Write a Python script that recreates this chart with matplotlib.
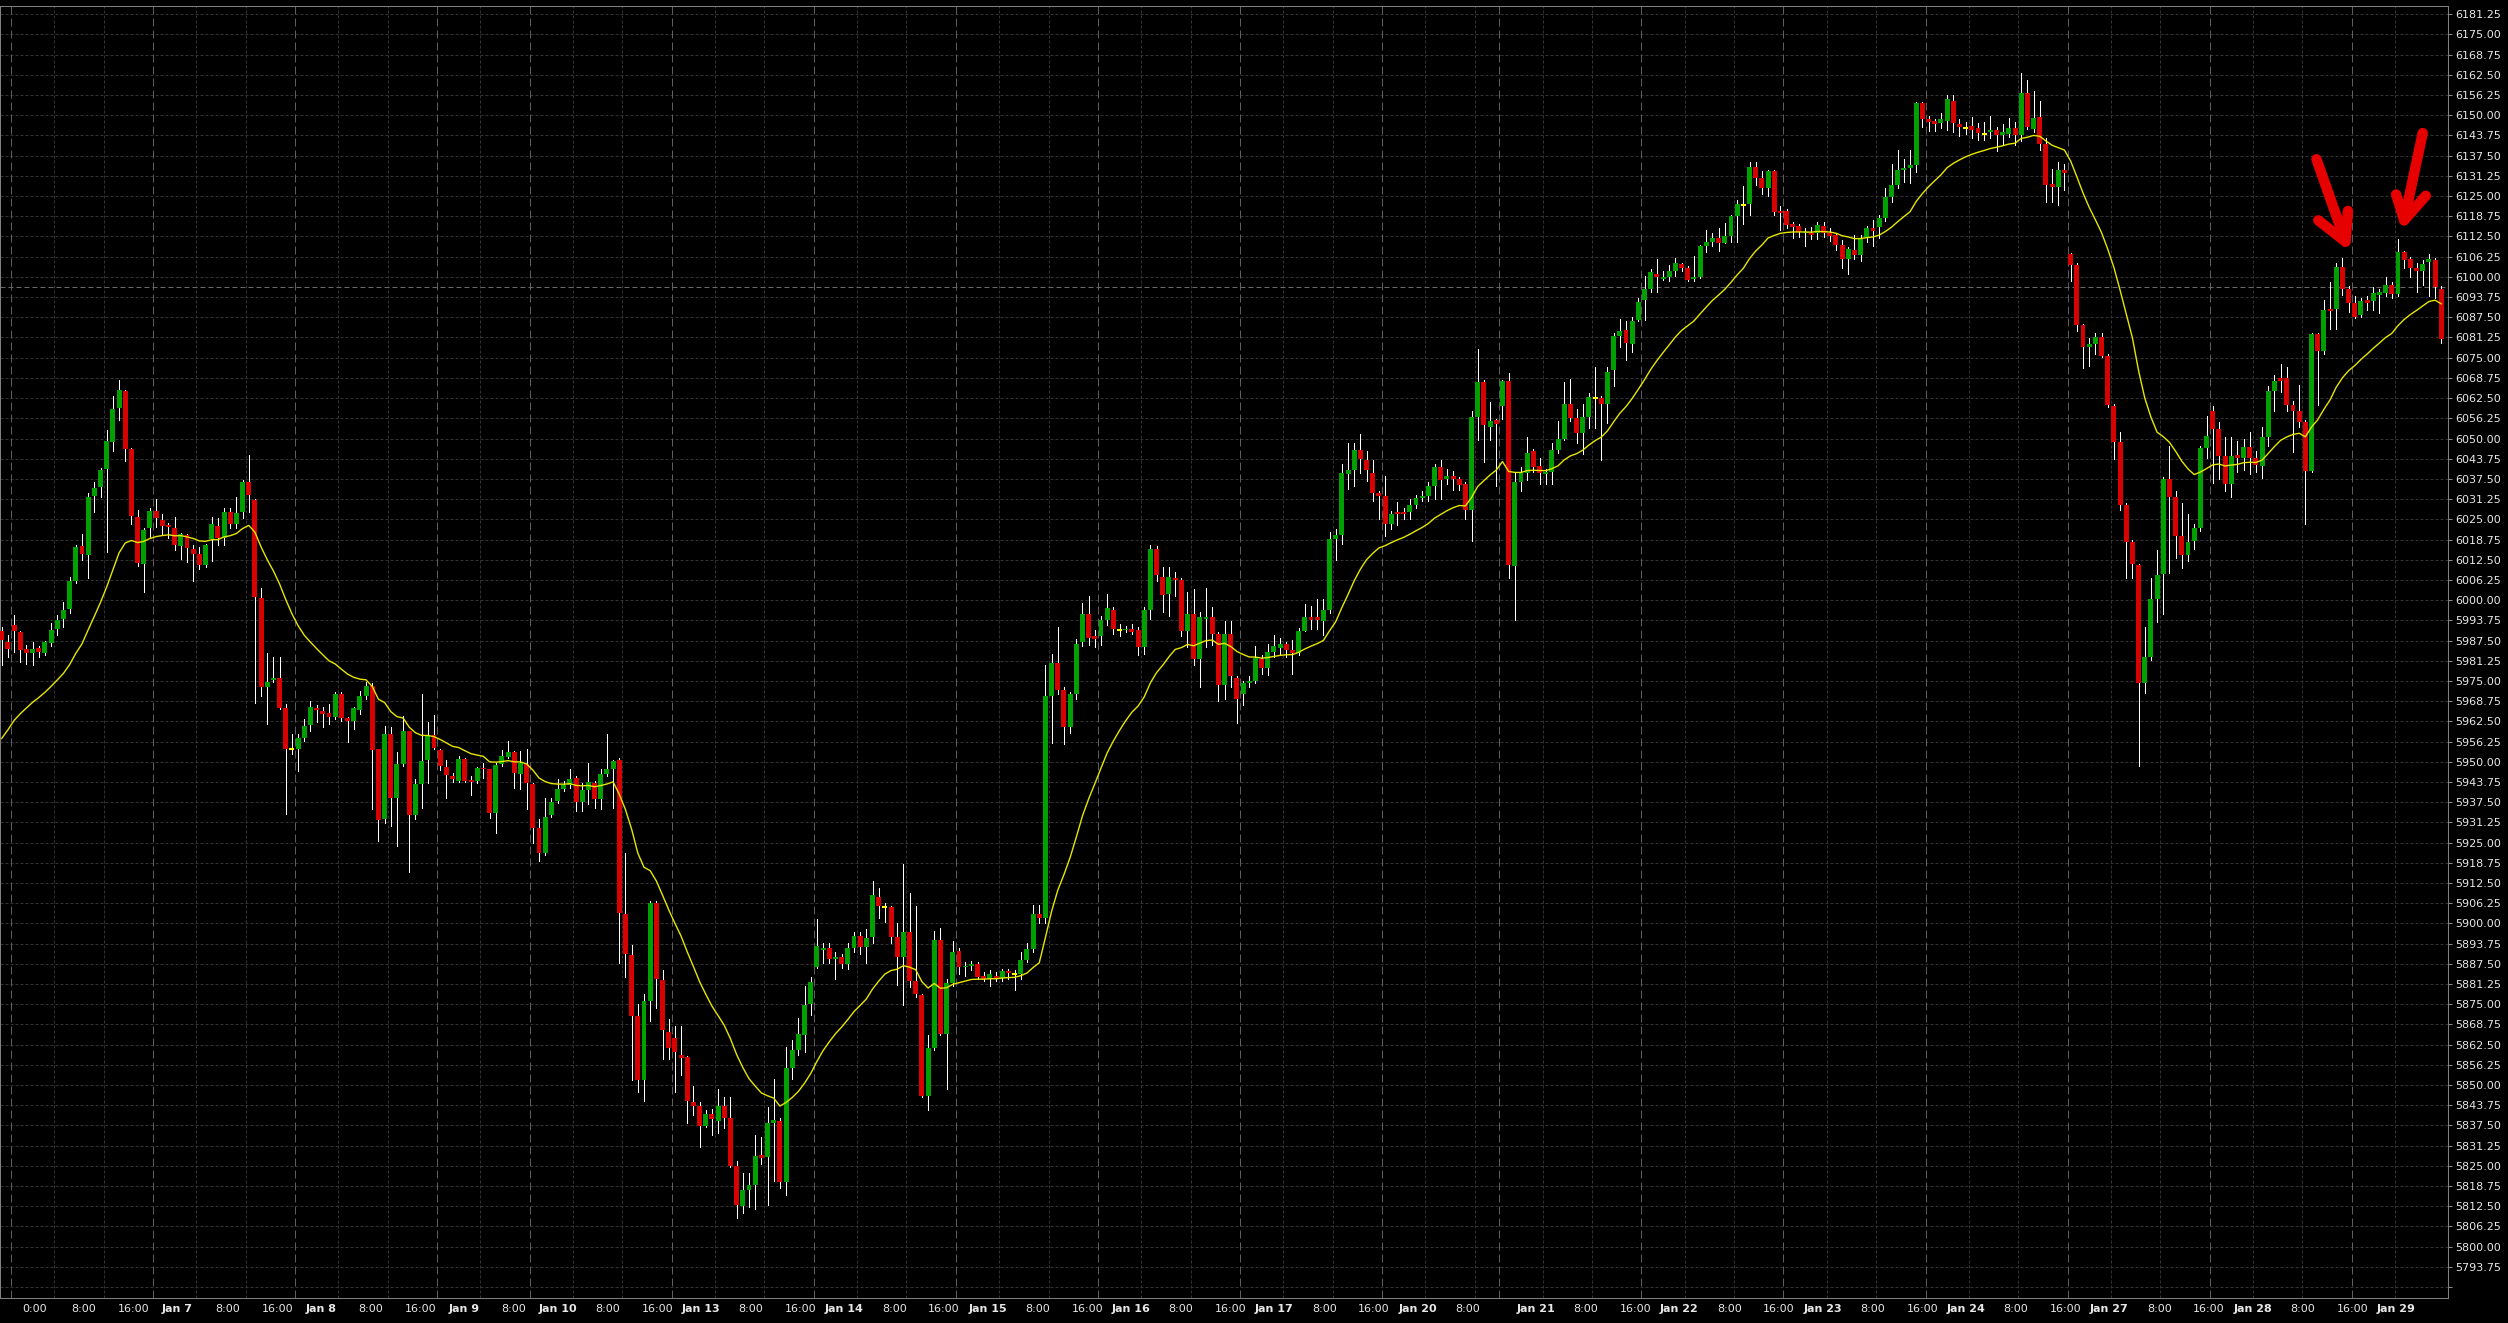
import numpy as np
import pandas as pd
import matplotlib
matplotlib.use("Agg")
import matplotlib.pyplot as plt
import matplotlib.transforms as mtransforms

# ---- hourly candles (bar 0 = left edge) ----
opens = [
    5990.3, 5987.2, 5992.2, 5990.1, 5984.9, 5983.7, 5985.1, 5983.7, 5986.7, 5991.1,
    5994.2, 5997.3, 6005.9, 6016.8, 6014.1, 6032.1, 6034.9, 6040.5, 6048.9, 6059.4,
    6064.8, 6046.8, 6025.8, 6011.3, 6022.2, 6027.5, 6024.8, 6023.2, 6022.4, 6016.8,
    6020.1, 6015.8, 6014.3, 6011.0, 6018.9, 6023.0, 6019.1, 6027.2, 6023.7, 6027.2,
    6036.7, 6031.1, 6000.7, 5973.0, 5975.4, 5976.0, 5966.5, 5953.9, 5954.1, 5957.2,
    5961.3, 5966.7, 5965.8, 5965.0, 5963.7, 5971.0, 5963.4, 5962.7, 5966.1, 5970.4,
    5973.5, 5953.9, 5932.2, 5958.5, 5938.9, 5949.2, 5959.4, 5933.4, 5943.0, 5950.5,
    5958.3, 5953.7, 5948.4, 5945.6, 5944.1, 5951.0, 5944.3, 5944.1, 5948.2, 5947.7,
    5934.0, 5949.2, 5951.6, 5953.1, 5946.1, 5949.2, 5943.0, 5929.6, 5921.8, 5933.4,
    5937.8, 5941.7, 5942.7, 5945.1, 5937.5, 5941.3, 5943.5, 5938.6, 5946.1, 5947.9,
    5950.6, 5902.8, 5890.1, 5871.4, 5851.6, 5875.9, 5906.2, 5882.4, 5866.3, 5864.5,
    5859.4, 5858.7, 5844.7, 5843.6, 5837.4, 5841.1, 5839.0, 5843.6, 5839.7, 5825.0,
    5812.6, 5817.4, 5819.2, 5828.4, 5827.7, 5838.3, 5839.0, 5819.9, 5855.3, 5860.8,
    5865.6, 5875.2, 5886.5, 5891.8, 5892.4, 5889.0, 5889.7, 5887.4, 5892.4, 5896.2,
    5892.7, 5895.9, 5908.3, 5905.1, 5905.1, 5895.9, 5889.7, 5897.3, 5882.1, 5877.7,
    5846.7, 5861.5, 5894.8, 5865.9, 5881.7, 5891.5, 5886.5, 5886.8, 5887.4, 5883.8,
    5882.8, 5883.8, 5883.2, 5885.2, 5884.2, 5884.2, 5888.6, 5892.2, 5902.8, 5901.7,
    5970.2, 5980.6, 5972.3, 5960.9, 5970.9, 5987.0, 5995.7, 5988.8, 5988.8, 5993.9,
    5997.1, 5990.9, 5990.9, 5991.2, 5990.9, 5985.4, 5997.1, 6015.7, 6007.1, 6001.9,
    6007.0, 6006.3, 5990.6, 5995.7, 5981.9, 5994.3, 5994.7, 5989.5, 5973.7, 5989.5,
    5976.0, 5970.9, 5974.4, 5974.9, 5981.7, 5979.0, 5983.9, 5985.3, 5986.3, 5984.7,
    5983.7, 5990.6, 5994.7, 5994.7, 5993.7, 5996.8, 6018.8, 6020.2, 6038.9, 6040.3,
    6046.4, 6043.3, 6039.3, 6033.0, 6032.2, 6023.6, 6027.2, 6027.3, 6027.2, 6029.5,
    6031.7, 6032.2, 6035.3, 6041.3, 6037.6, 6038.4, 6037.6, 6035.9, 6027.9, 6056.8,
    6067.5, 6053.7, 6055.8, 6060.1, 6067.9, 6010.5, 6036.6, 6039.3, 6046.0, 6041.6,
    6038.9, 6039.7, 6046.4, 6050.0, 6060.8, 6056.4, 6051.8, 6056.8, 6062.4, 6062.4,
    6060.8, 6071.1, 6081.6, 6083.6, 6079.2, 6086.6, 6092.9, 6096.3, 6101.0, 6099.5,
    6100.1, 6101.9, 6104.1, 6102.7, 6099.3, 6100.1, 6109.5, 6110.8, 6112.1, 6110.4,
    6112.7, 6118.8, 6122.1, 6122.5, 6133.9, 6130.5, 6127.4, 6132.8, 6120.5, 6120.5,
    6116.4, 6115.7, 6113.5, 6113.7, 6113.5, 6115.7, 6113.5, 6113.1, 6110.0, 6105.4,
    6108.4, 6106.8, 6112.1, 6115.1, 6115.3, 6118.2, 6124.7, 6128.3, 6133.0, 6133.7,
    6134.6, 6153.8, 6148.7, 6148.2, 6147.7, 6148.3, 6154.5, 6147.2, 6146.1, 6146.8,
    6146.1, 6144.3, 6144.8, 6145.4, 6143.9, 6144.3, 6146.2, 6143.9, 6157.0, 6145.8,
    6149.4, 6141.0, 6128.8, 6127.9, 6133.0, 6107.0, 6103.6, 6085.0, 6078.2, 6079.2,
    6081.4, 6075.6, 6060.0, 6048.8, 6029.5, 6017.9, 6011.0, 5974.3, 5982.3, 6000.4,
    6008.1, 6037.5, 6032.0, 6019.8, 6014.0, 6018.3, 6022.2, 6047.0, 6058.6, 6052.8,
    6044.5, 6035.8, 6044.8, 6044.0, 6047.4, 6044.0, 6041.6, 6050.6, 6064.8, 6068.6,
    6068.7, 6060.5, 6058.6, 6055.0, 6040.1, 6082.3, 6077.0, 6090.1, 6090.1, 6103.2,
    6096.4, 6092.0, 6088.1, 6092.7, 6092.4, 6094.5, 6094.9, 6097.4, 6094.6, 6107.6,
    6105.5, 6102.6, 6101.9, 6104.6, 6105.1, 6096.4,
]
highs = [
    5991.6, 5989.1, 5995.3, 5990.3, 5986.2, 5987.2, 5985.9, 5987.5, 5992.9, 5995.3,
    5999.4, 6007.2, 6017.2, 6020.4, 6033.1, 6036.5, 6040.8, 6052.7, 6063.1, 6068.0,
    6065.1, 6047.0, 6027.9, 6022.2, 6028.4, 6031.3, 6026.8, 6024.0, 6025.6, 6020.8,
    6020.4, 6017.0, 6016.5, 6017.5, 6025.8, 6025.3, 6028.4, 6028.6, 6032.0, 6037.2,
    6045.0, 6031.2, 6003.6, 5983.6, 5982.3, 5982.3, 5967.9, 5958.5, 5958.5, 5963.2,
    5968.9, 5967.5, 5966.8, 5967.9, 5971.5, 5971.5, 5963.7, 5966.8, 5972.0, 5974.6,
    5974.4, 5954.1, 5961.1, 5960.9, 5952.9, 5964.2, 5959.6, 5944.6, 5971.0, 5962.4,
    5964.4, 5953.9, 5950.6, 5946.4, 5951.8, 5951.3, 5945.6, 5948.5, 5949.7, 5947.9,
    5949.7, 5953.7, 5956.5, 5953.4, 5953.4, 5953.9, 5943.5, 5932.2, 5938.9, 5938.9,
    5944.6, 5944.1, 5947.7, 5945.6, 5943.3, 5949.7, 5944.1, 5947.9, 5958.5, 5950.6,
    5951.2, 5921.8, 5893.4, 5875.2, 5878.0, 5906.9, 5906.9, 5885.6, 5870.4, 5868.4,
    5868.1, 5859.0, 5849.8, 5844.7, 5842.2, 5842.5, 5848.8, 5846.3, 5846.3, 5826.4,
    5822.9, 5822.9, 5834.6, 5833.9, 5843.3, 5851.8, 5839.7, 5861.8, 5864.0, 5870.8,
    5880.7, 5883.5, 5901.4, 5893.8, 5893.8, 5891.1, 5890.4, 5893.8, 5897.3, 5897.3,
    5898.2, 5913.1, 5911.0, 5906.2, 5905.5, 5900.0, 5918.3, 5909.4, 5905.5, 5878.0,
    5865.6, 5897.5, 5898.6, 5882.8, 5894.5, 5892.5, 5887.9, 5888.3, 5887.9, 5884.9,
    5885.6, 5884.9, 5886.0, 5886.0, 5885.6, 5891.1, 5893.8, 5905.8, 5905.8, 5979.9,
    5983.3, 5991.6, 5973.0, 5971.6, 5988.1, 5999.1, 6001.2, 5990.9, 5995.0, 6001.9,
    5998.0, 5992.5, 5992.0, 5992.5, 5991.6, 5998.0, 6017.0, 6016.8, 6010.2, 6010.2,
    6008.8, 6006.7, 6002.6, 6003.3, 5996.4, 6003.9, 5997.8, 5990.2, 5993.6, 5993.6,
    5976.4, 5975.0, 5976.4, 5985.7, 5983.0, 5986.3, 5989.3, 5988.4, 5987.0, 5987.7,
    5991.4, 5998.7, 5998.1, 6000.4, 6000.4, 6021.2, 6021.9, 6042.0, 6048.7, 6048.7,
    6051.4, 6046.0, 6043.3, 6033.9, 6038.4, 6027.7, 6030.3, 6028.6, 6031.3, 6032.6,
    6033.9, 6036.6, 6042.0, 6043.3, 6040.7, 6040.0, 6038.0, 6036.6, 6058.5, 6077.8,
    6068.2, 6061.4, 6056.1, 6068.2, 6070.2, 6039.3, 6041.3, 6050.4, 6046.7, 6044.0,
    6040.7, 6048.7, 6055.4, 6067.5, 6068.4, 6059.0, 6060.8, 6064.1, 6072.2, 6063.1,
    6072.2, 6082.6, 6086.9, 6086.2, 6087.6, 6093.4, 6100.3, 6102.3, 6105.4, 6101.9,
    6103.7, 6105.7, 6104.4, 6103.3, 6106.4, 6110.0, 6114.4, 6113.5, 6115.1, 6116.7,
    6119.1, 6123.8, 6128.2, 6135.5, 6135.5, 6132.8, 6133.2, 6133.2, 6121.8, 6121.1,
    6117.1, 6116.4, 6115.1, 6115.3, 6117.1, 6117.1, 6115.1, 6113.7, 6111.3, 6109.1,
    6113.1, 6113.1, 6115.8, 6117.5, 6119.2, 6127.6, 6134.9, 6139.2, 6136.6, 6139.2,
    6154.1, 6154.1, 6149.7, 6148.7, 6150.6, 6156.4, 6156.4, 6148.7, 6148.0, 6149.4,
    6147.7, 6148.0, 6149.7, 6146.5, 6147.2, 6149.1, 6148.0, 6163.2, 6161.0, 6157.4,
    6154.5, 6142.9, 6133.4, 6135.6, 6134.9, 6107.3, 6104.4, 6085.5, 6081.1, 6082.6,
    6082.6, 6076.0, 6060.7, 6052.0, 6030.2, 6018.6, 6011.3, 5991.7, 6007.0, 6015.4,
    6038.2, 6047.7, 6033.9, 6030.2, 6026.6, 6023.7, 6047.7, 6057.1, 6060.0, 6055.0,
    6050.6, 6050.6, 6049.1, 6049.9, 6052.0, 6046.2, 6053.5, 6066.3, 6069.8, 6073.1,
    6072.1, 6061.5, 6066.6, 6055.7, 6082.6, 6082.6, 6092.7, 6098.5, 6104.4, 6105.8,
    6097.1, 6094.2, 6093.5, 6094.2, 6096.8, 6096.4, 6100.0, 6098.5, 6111.6, 6108.0,
    6106.1, 6104.4, 6105.1, 6107.0, 6105.8, 6097.1,
]
lows = [
    5979.8, 5982.3, 5983.9, 5981.0, 5980.3, 5979.8, 5982.3, 5983.1, 5985.9, 5989.3,
    5991.7, 5996.1, 6005.4, 6012.4, 6006.7, 6027.2, 6032.0, 6014.9, 6046.2, 6055.8,
    6042.9, 6023.7, 6010.6, 6002.5, 6019.3, 6022.7, 6020.6, 6019.1, 6015.5, 6012.7,
    6011.8, 6005.8, 6009.6, 6010.3, 6012.0, 6017.0, 6017.2, 6022.4, 6022.4, 6025.5,
    6027.2, 5968.2, 5970.4, 5961.6, 5974.6, 5966.3, 5933.7, 5952.3, 5947.2, 5956.5,
    5959.6, 5962.2, 5960.9, 5961.6, 5963.2, 5962.7, 5956.0, 5960.1, 5964.8, 5969.4,
    5935.3, 5925.4, 5931.1, 5930.1, 5923.9, 5948.7, 5915.8, 5932.2, 5935.6, 5943.5,
    5953.9, 5947.5, 5938.9, 5943.7, 5943.7, 5943.7, 5939.6, 5943.5, 5945.1, 5932.7,
    5928.0, 5948.7, 5951.3, 5942.0, 5941.5, 5935.3, 5924.9, 5919.2, 5921.3, 5933.0,
    5937.1, 5941.0, 5942.0, 5934.7, 5934.7, 5936.8, 5935.8, 5935.5, 5945.6, 5935.8,
    5887.6, 5883.5, 5851.4, 5847.7, 5845.0, 5869.7, 5873.9, 5858.0, 5858.0, 5847.7,
    5853.2, 5838.4, 5840.8, 5830.9, 5837.0, 5834.6, 5835.3, 5836.7, 5824.6, 5808.9,
    5810.5, 5812.2, 5811.5, 5825.7, 5813.0, 5820.2, 5818.1, 5816.0, 5851.8, 5859.4,
    5860.1, 5871.8, 5886.3, 5887.6, 5887.6, 5882.8, 5886.3, 5886.0, 5891.1, 5890.4,
    5887.6, 5893.8, 5901.7, 5900.3, 5893.8, 5881.0, 5874.6, 5880.3, 5877.3, 5846.3,
    5842.2, 5860.8, 5865.6, 5848.8, 5880.7, 5884.2, 5883.8, 5885.6, 5882.8, 5882.1,
    5880.7, 5882.1, 5882.1, 5882.8, 5879.4, 5882.8, 5887.9, 5891.1, 5900.0, 5900.0,
    5955.8, 5970.9, 5955.4, 5958.9, 5969.5, 5985.7, 5986.1, 5985.4, 5986.1, 5992.3,
    5989.5, 5988.8, 5990.2, 5989.5, 5982.9, 5983.3, 5994.3, 6006.0, 5996.4, 5995.0,
    6001.2, 5988.8, 5985.4, 5979.9, 5973.0, 5985.4, 5986.1, 5968.8, 5969.5, 5973.0,
    5961.9, 5967.5, 5973.0, 5974.3, 5977.0, 5976.7, 5982.3, 5983.0, 5982.3, 5977.0,
    5983.0, 5990.4, 5991.0, 5991.0, 5989.3, 5996.0, 6012.5, 6017.5, 6034.4, 6035.3,
    6039.3, 6037.0, 6030.6, 6025.2, 6019.9, 6021.9, 6023.2, 6025.2, 6025.2, 6028.6,
    6030.6, 6030.6, 6031.3, 6031.3, 6036.0, 6034.0, 6034.0, 6025.2, 6018.3, 6049.6,
    6042.7, 6049.4, 6035.3, 6056.1, 6006.7, 5994.0, 6033.9, 6037.3, 6039.7, 6036.0,
    6036.0, 6036.0, 6045.6, 6049.4, 6055.4, 6048.7, 6045.1, 6053.4, 6053.4, 6043.3,
    6054.8, 6066.1, 6078.2, 6074.2, 6076.9, 6086.2, 6086.6, 6095.2, 6095.2, 6099.0,
    6098.7, 6100.3, 6101.9, 6098.7, 6098.7, 6099.7, 6107.7, 6109.5, 6108.1, 6110.4,
    6110.8, 6110.8, 6116.4, 6119.1, 6128.5, 6125.5, 6125.1, 6119.1, 6114.4, 6115.1,
    6112.1, 6112.4, 6109.5, 6111.7, 6111.7, 6112.4, 6111.1, 6108.4, 6102.7, 6101.0,
    6105.4, 6105.0, 6110.8, 6109.7, 6111.9, 6117.4, 6123.3, 6127.5, 6129.4, 6129.1,
    6132.3, 6146.5, 6145.1, 6145.1, 6146.2, 6145.4, 6144.8, 6143.6, 6144.3, 6142.9,
    6142.4, 6142.2, 6142.9, 6139.0, 6140.7, 6143.3, 6140.7, 6141.9, 6145.8, 6144.8,
    6139.2, 6123.3, 6123.3, 6122.1, 6126.9, 6098.8, 6083.3, 6071.7, 6072.4, 6076.0,
    6075.3, 6059.6, 6043.6, 6028.0, 6007.0, 6007.0, 5948.8, 5971.4, 5981.6, 5993.2,
    5995.6, 6008.4, 6013.1, 6009.9, 6012.1, 6015.7, 6021.5, 6044.0, 6036.1, 6037.5,
    6033.9, 6032.0, 6039.7, 6040.4, 6039.0, 6039.7, 6037.8, 6047.7, 6058.6, 6064.4,
    6058.6, 6045.9, 6053.5, 6023.7, 6039.7, 6060.5, 6076.0, 6084.0, 6084.0, 6094.5,
    6089.1, 6087.2, 6087.6, 6089.8, 6089.8, 6088.7, 6094.2, 6093.5, 6094.2, 6102.9,
    6100.0, 6095.3, 6097.4, 6094.2, 6093.5, 6079.4,
]
closes = [
    5987.7, 5985.0, 5990.3, 5984.7, 5983.7, 5984.9, 5983.9, 5987.0, 5990.8, 5994.0,
    5996.9, 6005.8, 6016.5, 6014.4, 6032.0, 6034.8, 6040.4, 6049.1, 6059.1, 6065.1,
    6046.7, 6026.0, 6011.5, 6021.7, 6027.6, 6025.3, 6022.9, 6022.5, 6017.0, 6020.4,
    6016.0, 6014.4, 6011.0, 6017.0, 6023.4, 6019.1, 6027.4, 6023.5, 6027.1, 6036.7,
    6032.5, 6000.9, 5973.2, 5974.8, 5976.0, 5966.7, 5954.1, 5953.9, 5957.2, 5961.1,
    5966.8, 5966.0, 5964.8, 5963.7, 5971.0, 5963.5, 5962.6, 5966.5, 5970.3, 5973.3,
    5953.7, 5932.0, 5958.5, 5938.9, 5949.2, 5959.4, 5933.4, 5943.0, 5950.3, 5958.0,
    5954.2, 5948.7, 5945.8, 5944.6, 5950.8, 5944.1, 5943.7, 5948.2, 5947.7, 5934.0,
    5948.9, 5951.8, 5953.1, 5946.4, 5949.7, 5943.3, 5929.6, 5921.8, 5933.0, 5937.5,
    5941.7, 5942.7, 5944.8, 5937.5, 5941.3, 5943.7, 5938.6, 5946.1, 5947.7, 5950.1,
    5903.1, 5890.4, 5871.4, 5851.6, 5875.9, 5906.2, 5882.8, 5867.0, 5861.5, 5860.1,
    5858.5, 5844.9, 5843.6, 5837.4, 5841.1, 5839.5, 5843.6, 5839.7, 5825.0, 5812.9,
    5817.4, 5819.2, 5828.0, 5827.3, 5838.3, 5839.2, 5819.9, 5855.3, 5860.8, 5865.9,
    5874.9, 5881.9, 5892.9, 5892.4, 5889.0, 5889.7, 5887.4, 5892.4, 5896.2, 5892.7,
    5895.5, 5908.7, 5905.5, 5905.1, 5895.9, 5889.7, 5897.3, 5882.1, 5878.0, 5846.7,
    5861.5, 5894.8, 5865.9, 5881.7, 5891.1, 5886.5, 5886.9, 5887.4, 5883.5, 5882.8,
    5884.2, 5882.8, 5885.2, 5884.5, 5884.2, 5888.6, 5892.2, 5902.8, 5901.7, 5970.2,
    5980.6, 5972.3, 5960.9, 5970.9, 5986.5, 5995.7, 5988.4, 5987.9, 5993.9, 5997.5,
    5991.2, 5990.9, 5991.2, 5990.2, 5985.4, 5997.1, 6015.7, 6007.7, 6001.6, 6007.1,
    6006.3, 5990.6, 5995.7, 5981.9, 5994.7, 5994.7, 5989.5, 5973.7, 5989.5, 5976.4,
    5969.5, 5974.4, 5975.0, 5982.1, 5979.0, 5983.9, 5985.7, 5986.3, 5984.7, 5983.7,
    5990.6, 5994.7, 5994.0, 5994.0, 5996.8, 6018.8, 6020.2, 6039.3, 6040.3, 6046.4,
    6043.6, 6040.3, 6033.0, 6032.2, 6023.6, 6026.6, 6026.8, 6026.8, 6029.5, 6031.7,
    6032.2, 6035.3, 6041.3, 6037.3, 6038.4, 6037.6, 6035.7, 6027.9, 6056.8, 6067.5,
    6054.1, 6055.4, 6054.5, 6067.9, 6010.8, 6036.6, 6039.3, 6045.6, 6041.3, 6039.3,
    6039.7, 6046.4, 6050.0, 6060.8, 6056.4, 6051.8, 6056.8, 6062.8, 6062.4, 6060.8,
    6070.6, 6081.6, 6083.2, 6079.5, 6086.2, 6092.3, 6096.3, 6101.4, 6100.1, 6100.1,
    6101.9, 6104.4, 6102.7, 6099.0, 6100.1, 6109.5, 6110.8, 6112.1, 6110.4, 6112.7,
    6118.8, 6122.5, 6122.1, 6133.9, 6130.5, 6127.4, 6132.8, 6120.2, 6119.8, 6116.2,
    6115.5, 6113.8, 6114.0, 6113.1, 6116.2, 6113.5, 6112.7, 6110.0, 6105.4, 6108.7,
    6106.8, 6112.1, 6115.1, 6114.3, 6118.2, 6124.7, 6128.3, 6133.0, 6133.7, 6134.6,
    6153.8, 6148.7, 6148.0, 6147.4, 6148.7, 6154.9, 6147.7, 6146.5, 6146.1, 6145.4,
    6144.6, 6144.3, 6145.5, 6143.9, 6144.8, 6146.2, 6143.9, 6157.0, 6146.5, 6149.1,
    6141.0, 6128.4, 6127.9, 6133.1, 6132.0, 6103.6, 6085.0, 6078.2, 6079.2, 6081.4,
    6075.6, 6060.5, 6048.8, 6029.5, 6017.9, 6011.3, 5974.3, 5982.3, 6000.4, 6007.7,
    6037.5, 6032.0, 6019.8, 6014.0, 6017.9, 6022.2, 6047.0, 6050.9, 6052.8, 6044.5,
    6035.8, 6044.5, 6044.0, 6047.4, 6044.0, 6041.9, 6050.6, 6064.8, 6067.7, 6067.7,
    6060.5, 6058.6, 6055.0, 6040.1, 6082.3, 6077.0, 6089.8, 6089.5, 6103.2, 6096.4,
    6092.0, 6087.6, 6092.4, 6092.0, 6094.9, 6095.2, 6097.4, 6094.6, 6107.6, 6105.1,
    6102.6, 6101.9, 6104.1, 6105.4, 6096.8, 6080.8,
]

# sessions shown on the chart and how many hourly bars each one has
session_days = ["Jan 6", "Jan 7", "Jan 8", "Jan 9", "Jan 10", "Jan 13", "Jan 14",
                "Jan 15", "Jan 16", "Jan 17", "Jan 20", "Jan 21", "Jan 22", "Jan 23",
                "Jan 24", "Jan 27", "Jan 28", "Jan 29"]
session_bars = [23, 23, 23, 15, 23, 23, 23, 23, 23, 23, 19, 23, 23, 23, 23, 23, 23, 15]
bars_before = 2          # tail of the previous session at the left edge

ema_span = 20
ema_start = 5954.0       # moving average value at the first visible bar
cursor_price = 6097.0

# the two red marker arrows (x = bar number, y = price)
arrows = [
    {"tail": (374.8, 6136.4), "tip": (379.5, 6110.9), "wings": [(375.1, 6117.5), (379.9, 6120.4)]},
    {"tail": (392.0, 6144.5), "tip": (389.0, 6117.5), "wings": [(387.7, 6125.5), (392.5, 6125.1)]},
]

BG = "#000000"
UP = "#00a000"
DOWN = "#d90000"
TXT = "#e8e8e8"

o = np.array(opens)
h = np.array(highs)
l = np.array(lows)
c = np.array(closes)
h = np.maximum(h, np.maximum(o, c))
l = np.minimum(l, np.minimum(o, c))
x = np.arange(len(c))

ema = pd.Series([ema_start] + closes).ewm(span=ema_span, adjust=False).mean().values[1:]

fig = plt.figure(figsize=(25.08, 13.23), dpi=100, facecolor=BG)
ax = fig.add_axes([0.0, 0.01912, 0.97608, 0.97634], facecolor=BG)

# horizontal grid
levels = np.arange(5787.5, 6181.26, 6.25)
for lv in levels:
    ax.axhline(lv, color="#333333", lw=0.72, ls=(0, (3, 2)), zorder=0)

# vertical grid (session boundaries brighter)
starts = bars_before + np.concatenate([[0], np.cumsum(session_bars)[:-1]])
for s, n in zip(starts, session_bars):
    for off in (6.5, 14.5):
        if off < n - 0.5:
            ax.axvline(s + off, color="#333333", lw=0.72, ls=(0, (3, 2)), zorder=0)
    ax.axvline(s - 0.5, color="#5e5e5e", lw=0.72, ls=(0, (8, 4)), zorder=0)

ax.axhline(cursor_price, color="#666666", lw=0.72, ls=(0, (5, 3)), zorder=1)

# candles
ax.vlines(x, l, h, color="white", lw=0.72, zorder=2, antialiased=False)
up = c > o
dn = c < o
flat = c == o
ax.bar(x[up], c[up] - o[up], bottom=o[up], width=0.8, color=UP, lw=0,
       zorder=3, antialiased=False)
ax.bar(x[dn], o[dn] - c[dn], bottom=c[dn], width=0.8, color=DOWN, lw=0,
       zorder=3, antialiased=False)
ax.hlines(c[flat], x[flat] - 0.4, x[flat] + 0.4, color="yellow", lw=1.5, zorder=3)

ax.plot(x, ema, color="#e6e600", lw=1.0, zorder=4)

for a in arrows:
    (tx, ty), (px, py) = a["tail"], a["tip"]
    ax.plot([tx, px], [ty, py], color="#e60000", lw=7.5,
            solid_capstyle="round", zorder=6)
    w1, w2 = a["wings"]
    ax.plot([w1[0], px, w2[0]], [w1[1], py, w2[1]], color="#e60000", lw=7.5,
            solid_capstyle="round", solid_joinstyle="round", zorder=6)

ax.set_xlim(-0.275, 396.1)
ax.set_ylim(5784.2, 6183.8)

ax.yaxis.tick_right()
ax.set_yticks(levels)
ax.set_yticklabels(["" if lv < 5790 else f"{lv:.2f}" for lv in levels])
ax.tick_params(axis="y", colors="#8a8a8a", labelcolor=TXT, labelsize=8,
               length=3, width=0.75, pad=2)
ax.set_xticks([])
for sp in ax.spines.values():
    sp.set_color("#808080")
    sp.set_linewidth(0.75)

# time axis labels
trans = mtransforms.blended_transform_factory(ax.transData, ax.transAxes)
for i, (day, s, n) in enumerate(zip(session_days, starts, session_bars)):
    for off, txt in ((6, day if i > 0 else "0:00"), (14, "8:00"), (22, "16:00")):
        if off >= n:
            continue
        xl = 1.009 * (s + off) - 2.81
        if xl > 392:
            continue
        bold = off == 6 and i > 0
        ax.text(xl, -0.00875, txt, transform=trans, ha="center", va="center",
                fontsize=8, color=TXT, fontweight="bold" if bold else "normal",
                clip_on=False)

fig.savefig("out.png", dpi=100, facecolor=BG)
